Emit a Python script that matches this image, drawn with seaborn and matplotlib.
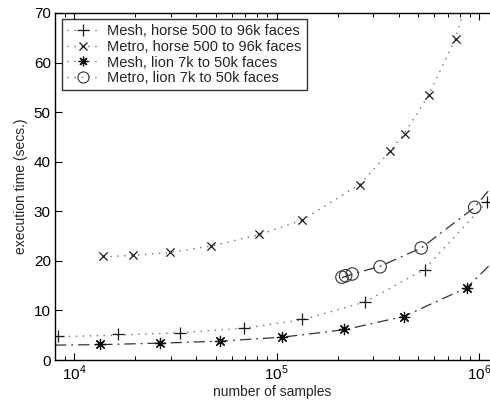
import numpy as np
import pandas as pd
import matplotlib
matplotlib.use("Agg")
import matplotlib.pyplot as plt
from matplotlib.lines import Line2D
import seaborn as sns

# marker positions (samples, seconds)
mesh_horse_x = [8340, 16400, 33200, 68700, 133600, 273000, 537000, 1090000]
mesh_horse_y = [4.8, 5.2, 5.5, 6.5, 8.2, 11.8, 18.2, 31.9]

metro_horse_x = [13960, 19500, 29800, 47600, 82200, 133600, 258000, 363000, 429000, 562000, 764000]
metro_horse_y = [20.9, 21.2, 21.8, 22.9, 25.4, 28.2, 35.4, 42.2, 45.6, 53.5, 64.8]

mesh_lion_x = [13350, 26700, 52600, 106400, 216000, 425000, 869000]
mesh_lion_y = [3.2, 3.4, 3.8, 4.6, 6.2, 8.7, 14.6]

metro_lion_x = [210000, 219000, 236000, 324000, 517000, 949000]
metro_lion_y = [16.7, 17.0, 17.35, 18.8, 22.6, 30.8]

# fitted curves (they run past the markers)
mesh_horse_fit_x = [8050, 16400, 33200, 68700, 133600, 273000, 537000, 1090000, 1130000]
mesh_horse_fit_y = [4.7, 5.0, 5.5, 6.4, 8.1, 11.7, 18.3, 31.9, 33.0]
metro_horse_fit_x = [13960, 19500, 29800, 47600, 82200, 133600, 258000, 363000, 429000, 562000, 764000, 830000]
metro_horse_fit_y = [20.8, 21.1, 21.7, 23.0, 25.3, 28.2, 35.5, 42.1, 45.8, 53.4, 64.9, 70.0]
mesh_lion_fit_x = [8050, 13350, 26700, 52600, 106400, 216000, 425000, 869000, 1130000]
mesh_lion_fit_y = [3.0, 3.1, 3.4, 3.8, 4.6, 6.1, 8.8, 14.6, 19.2]
metro_lion_fit_x = [210000, 236000, 324000, 517000, 949000, 1130000]
metro_lion_fit_y = [16.6, 17.3, 18.9, 22.6, 30.8, 34.5]

labels = ["Mesh, horse 500 to 96k faces", "Metro, horse 500 to 96k faces",
          "Mesh, lion 7k to 50k faces", "Metro, lion 7k to 50k faces"]

sns.set_style("ticks")
plt.rcParams['font.family'] = ['Liberation Sans', 'DejaVu Sans']
plt.rcParams['mathtext.fontset'] = 'custom'
plt.rcParams['mathtext.rm'] = 'Liberation Sans'

fig = plt.figure(figsize=(4.9, 4.07), dpi=100)
ax = fig.add_axes([55 / 490, 1 - 360 / 407, 435 / 490, 347 / 407])

dotted = (0, (1, 4))
dashdot = (0, (9, 4, 1.5, 4))

sns.lineplot(x=mesh_horse_fit_x, y=mesh_horse_fit_y, ax=ax, color='0.45', lw=1.0, linestyle=dotted)
sns.lineplot(x=metro_horse_fit_x, y=metro_horse_fit_y, ax=ax, color='0.45', lw=1.0, linestyle=dotted)
sns.lineplot(x=mesh_lion_fit_x, y=mesh_lion_fit_y, ax=ax, color='0.2', lw=0.9, linestyle=dashdot)
sns.lineplot(x=metro_lion_fit_x, y=metro_lion_fit_y, ax=ax, color='0.2', lw=0.9, linestyle=dashdot)

sns.scatterplot(x=mesh_horse_x, y=mesh_horse_y, ax=ax, marker='+', color='0.1', s=70, linewidth=0.9, zorder=5)
sns.scatterplot(x=metro_horse_x, y=metro_horse_y, ax=ax, marker='x', color='0.1', s=35, linewidth=0.9, zorder=5)
sns.scatterplot(x=mesh_lion_x, y=mesh_lion_y, ax=ax, marker=(8, 2, 0), color='0.05', s=55, linewidth=0.9, zorder=5)
sns.scatterplot(x=metro_lion_x, y=metro_lion_y, ax=ax, marker='o', facecolor='none', edgecolor='0.2', s=80, linewidth=0.8, zorder=5)

ax.set_xscale('log')
ax.set_xlim(8050, 1.13e6)
ax.set_ylim(0, 70)
ax.set_yticks([0, 10, 20, 30, 40, 50, 60, 70])
ax.set_xticks([1e4, 1e5, 1e6])
ax.set_xticklabels([r'$10^4$', r'$10^5$', r'$10^6$'])

ax.spines['right'].set_visible(False)
for s in ['left', 'bottom', 'top']:
    ax.spines[s].set_linewidth(1.0)
    ax.spines[s].set_color('black')
ax.tick_params(which='both', direction='in', top=True, right=False, colors='black', labelsize=11)
ax.tick_params(which='major', length=5, width=0.8)
ax.tick_params(which='minor', length=3, width=0.7)
ax.tick_params(axis='x', pad=3)
ax.tick_params(axis='y', pad=3)

ax.set_xlabel('number of samples', fontsize=10, labelpad=1)
ax.set_ylabel('execution time (secs.)', fontsize=10, labelpad=4)

handles = [
    Line2D([], [], color='0.45', lw=1.0, linestyle=dotted, marker='+', markersize=9, markeredgecolor='0.1', markeredgewidth=0.9),
    Line2D([], [], color='0.45', lw=1.0, linestyle=dotted, marker='x', markersize=6, markeredgecolor='0.1', markeredgewidth=0.9),
    Line2D([], [], color='0.45', lw=1.0, linestyle=dotted, marker=(8, 2, 0), markersize=7, markeredgecolor='0.05', markeredgewidth=0.9),
    Line2D([], [], color='0.45', lw=1.0, linestyle=dotted, marker='o', markersize=8, markerfacecolor='none', markeredgecolor='0.2', markeredgewidth=0.8),
]
leg = ax.legend(handles, labels, loc='upper left', bbox_to_anchor=(0.015, 0.983), borderaxespad=0,
                fontsize=10.5, frameon=True, fancybox=False, handlelength=2.2, handletextpad=0.6,
                labelspacing=0.12, borderpad=0.35)
leg.get_frame().set_edgecolor('black')
leg.get_frame().set_linewidth(1.0)

fig.savefig('out.png', dpi=100)
